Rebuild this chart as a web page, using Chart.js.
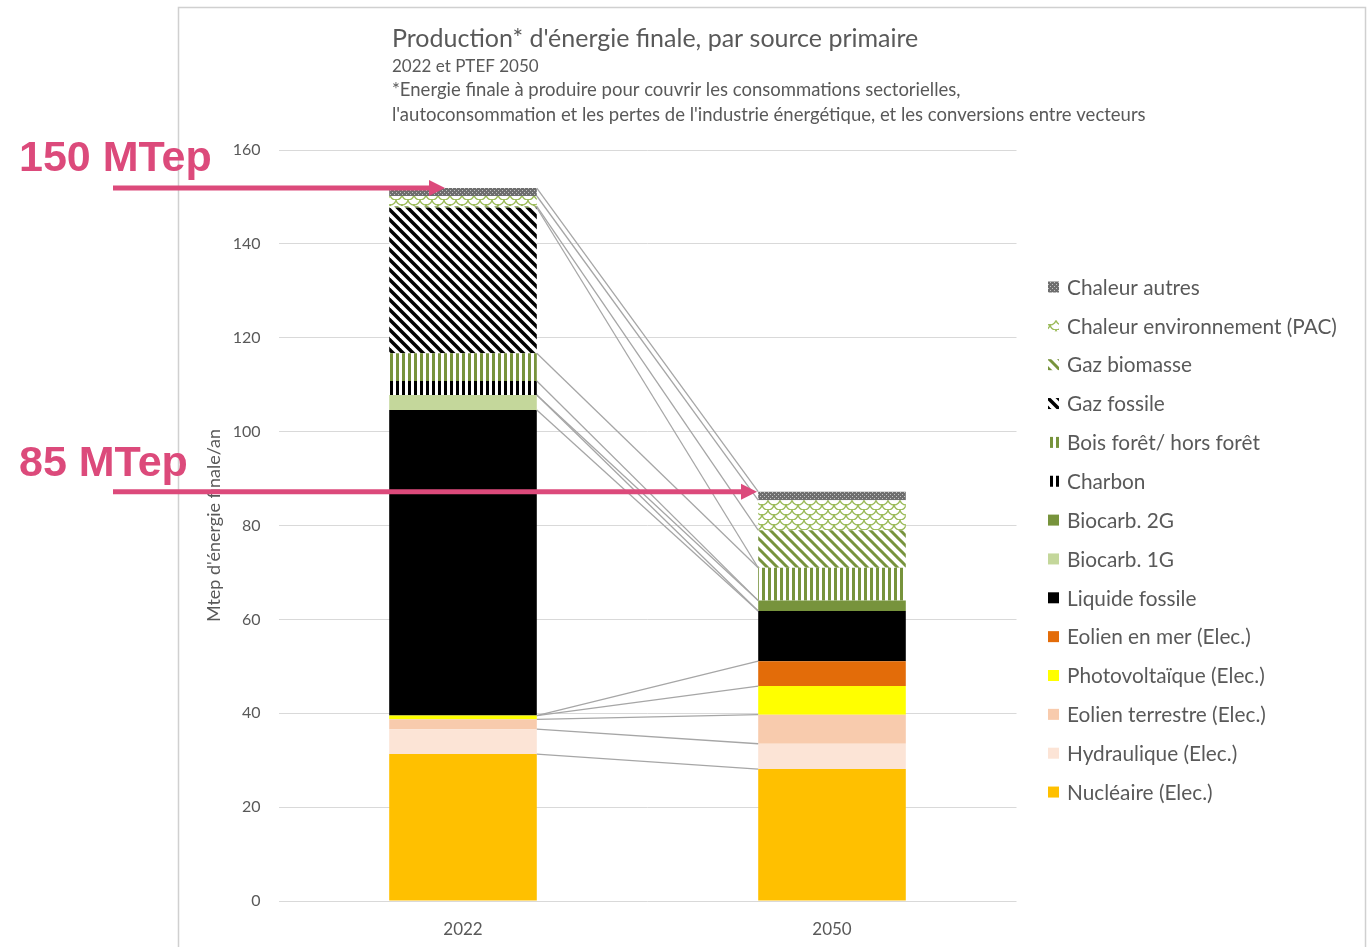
<!DOCTYPE html>
<html><head><meta charset="utf-8">
<script src="https://cdn.jsdelivr.net/npm/chart.js@4/dist/chart.umd.min.js"></script>
<style>html,body{margin:0;padding:0;background:#fff;overflow:hidden}</style>
</head><body>
<canvas id="c" width="1371" height="947"></canvas>
<script>
// ---------- DATA ----------
const categories = ['2022', '2050'];
const seriesNames = ['Nucléaire (Elec.)', 'Hydraulique (Elec.)', 'Eolien terrestre (Elec.)', 'Photovoltaïque (Elec.)',
  'Eolien en mer (Elec.)', 'Liquide fossile', 'Biocarb. 1G', 'Biocarb. 2G', 'Charbon', 'Bois forêt/ hors forêt',
  'Gaz fossile', 'Gaz biomasse', 'Chaleur environnement (PAC)', 'Chaleur autres'];
const nucleaire = [31.3, 28.1];
const hydraulique = [5.3, 5.4];
const eolienTerrestre = [2.1, 6.2];
const photovoltaique = [0.8, 6.1];
const eolienMer = [0.0, 5.3];
const liquideFossile = [65.1, 10.7];
const biocarb1G = [3.2, 0.0];
const biocarb2G = [0.0, 2.2];
const charbon = [3.0, 0.0];
const bois = [5.9, 7.0];
const gazFossile = [31.0, 0.0];
const gazBiomasse = [0.3, 8.0];
const chaleurPAC = [2.2, 6.4];
const chaleurAutres = [1.7, 1.8];
const seriesValues = [nucleaire, hydraulique, eolienTerrestre, photovoltaique, eolienMer, liquideFossile,
  biocarb1G, biocarb2G, charbon, bois, gazFossile, gazBiomasse, chaleurPAC, chaleurAutres];
const yTicks = [0, 20, 40, 60, 80, 100, 120, 140, 160];
const annotationLabels = ['150 MTep', '85 MTep'];

// ---------- STYLES ----------
function pat(w, h, fn) {
  const c = document.createElement('canvas'); c.width = w; c.height = h;
  const g = c.getContext('2d'); g.fillStyle = '#fff'; g.fillRect(0, 0, w, h); fn(g, w, h);
  return g.createPattern(c, 'repeat');
}
const vStripes = col => pat(6, 6, g => { g.fillStyle = col; g.fillRect(0, 0, 3, 6); });
const dStripes = (col, s, lw) => pat(s, s, g => {
  g.strokeStyle = col; g.lineWidth = lw; g.lineCap = 'square';
  for (const o of [-s, 0, s]) { g.beginPath(); g.moveTo(o, 0); g.lineTo(o + s, s); g.stroke(); }
});
const scales = col => pat(12, 10, g => {
  g.strokeStyle = col; g.lineWidth = 1.3;
  [[6, -1], [0, 4], [12, 4], [6, 9]].forEach(([x, y]) => { g.beginPath(); g.arc(x, y, 6, 0, Math.PI); g.stroke(); });
});
const dots = pat(4, 4, g => {
  g.fillStyle = '#6e6e6e'; g.fillRect(0, 0, 4, 4);
  g.fillStyle = '#c4c4c4'; g.fillRect(0, 0, 1, 1); g.fillRect(2, 2, 1, 1);
});
const seriesColors = ['#FFC000', '#FCE4D6', '#F8CBAD', '#FFFF00', '#E36C09', '#000000', '#C4D79B', '#77933C',
  vStripes('#000000'), vStripes('#77933C'), dStripes('#000000', 10, 3.5), dStripes('#77933C', 10, 3),
  scales('#9BBB59'), dots];

const TXT = '#595959';
const FONT = 'Lato, "Open Sans", sans-serif';

// ---------- PLUGINS ----------
const framePlugin = {
  id: 'frame',
  beforeDraw(chart) {
    const ctx = chart.ctx; ctx.save();
    ctx.strokeStyle = '#D0D0D0'; ctx.lineWidth = 1.5;
    ctx.strokeRect(178.5, 7.5, 1187, 1000);
    ctx.restore();
  },
  afterDraw(chart) {
    const ctx = chart.ctx; ctx.save();
    ctx.fillStyle = TXT; ctx.textBaseline = 'alphabetic'; ctx.textAlign = 'left';
    ctx.font = '25px ' + FONT;
    ctx.fillText("Production* d'énergie finale, par source primaire", 392, 47);
    ctx.font = '17px ' + FONT;
    ctx.fillText('2022 et PTEF 2050', 392, 72);
    ctx.font = '18.5px ' + FONT;
    ctx.fillText("*Energie finale à produire pour couvrir les consommations sectorielles,", 392, 96);
    ctx.fillText("l'autoconsommation et les pertes de l'industrie énergétique, et les conversions entre vecteurs", 392, 121);
    ctx.restore();
  }
};

const seriesLinesPlugin = {
  id: 'seriesLines',
  afterDatasetsDraw(chart) {
    const ctx = chart.ctx; ctx.save();
    ctx.strokeStyle = '#A6A6A6'; ctx.lineWidth = 1.3;
    chart.data.datasets.forEach((ds, i) => {
      const m = chart.getDatasetMeta(i);
      const a = m.data[0], b = m.data[1];
      ctx.beginPath();
      ctx.moveTo(a.x + a.width / 2, a.y);
      ctx.lineTo(b.x - b.width / 2, b.y);
      ctx.stroke();
    });
    ctx.restore();
  }
};

const legendPlugin = {
  id: 'customLegend',
  afterDraw(chart) {
    const ctx = chart.ctx; ctx.save();
    ctx.font = '20.8px ' + FONT; ctx.textBaseline = 'middle'; ctx.textAlign = 'left';
    const n = chart.data.datasets.length;
    for (let k = 0; k < n; k++) {
      const ds = chart.data.datasets[n - 1 - k];
      const y = 287 + k * 38.85;
      ctx.fillStyle = ds.backgroundColor; ctx.fillRect(1048, y - 5.5, 11, 11);
      ctx.fillStyle = TXT; ctx.fillText(ds.label, 1067, y + 1);
    }
    ctx.restore();
  }
};

const annotationPlugin = {
  id: 'arrows',
  afterDraw(chart) {
    const ctx = chart.ctx, ys = chart.scales.y; ctx.save();
    const pink = '#DC4A7B';
    const totals = categories.map((_, j) => seriesValues.reduce((s, arr) => s + arr[j], 0));
    const tips = [445, 757];
    const labelBase = [171, 476];
    totals.forEach((t, j) => {
      const y = ys.getPixelForValue(t);
      ctx.fillStyle = pink; ctx.strokeStyle = pink;
      ctx.font = 'bold 43px "Liberation Sans", Arial, sans-serif'; ctx.textBaseline = 'alphabetic';
      ctx.fillText(annotationLabels[j], 19, labelBase[j]);
      ctx.lineWidth = 5; ctx.beginPath(); ctx.moveTo(113, y); ctx.lineTo(tips[j] - 14, y); ctx.stroke();
      ctx.beginPath(); ctx.moveTo(tips[j], y); ctx.lineTo(tips[j] - 16, y - 8); ctx.lineTo(tips[j] - 16, y + 8); ctx.closePath(); ctx.fill();
    });
    ctx.restore();
  }
};

// ---------- CHART ----------
new Chart(document.getElementById('c'), {
  type: 'bar',
  data: {
    labels: categories,
    datasets: seriesNames.map((name, i) => ({
      label: name, data: seriesValues[i], backgroundColor: seriesColors[i], borderWidth: 0,
      categoryPercentage: 1.0, barPercentage: 0.4
    }))
  },
  options: {
    responsive: false, animation: false, devicePixelRatio: 1,
    layout: { padding: { left: 178, right: 354.5, top: 150, bottom: 0 } },
    plugins: { legend: { display: false }, tooltip: { enabled: false }, title: { display: false } },
    scales: {
      x: {
        stacked: true,
        grid: { display: false, drawTicks: false }, border: { display: false },
        ticks: { color: TXT, font: { family: FONT, size: 17 }, padding: 18 },
        afterFit(s) { s.height = 46; }
      },
      y: {
        stacked: true, min: 0, max: 160,
        afterBuildTicks(s) { s.ticks = yTicks.map(v => ({ value: v })); },
        grid: { color: '#D9D9D9', lineWidth: 1, drawTicks: false }, border: { display: false },
        ticks: { color: TXT, font: { family: FONT, size: 16 }, padding: 18 },
        title: { display: true, text: "Mtep d'énergie finale/an", color: TXT, font: { family: FONT, size: 18 }, padding: { top: 25 } },
        afterFit(s) { s.width = 100.5; }
      }
    }
  },
  plugins: [framePlugin, seriesLinesPlugin, legendPlugin, annotationPlugin]
});
</script>
</body></html>
